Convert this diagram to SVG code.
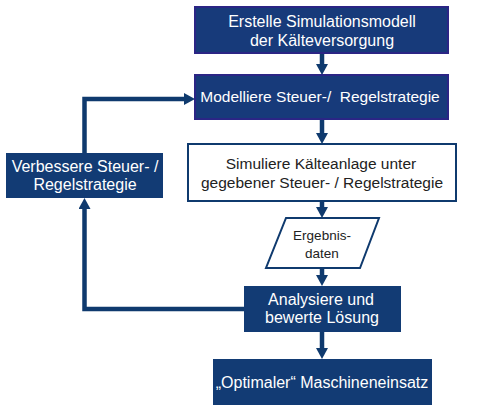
<svg xmlns="http://www.w3.org/2000/svg" width="484" height="410" viewBox="0 0 484 410">
<style>
.dark{fill:#123b74;}
.top{fill:#173a7a;stroke:#2b2585;stroke-width:2;}
.white{fill:#ffffff;stroke:#0f3a6e;stroke-width:2;}
.tw{font-family:"Liberation Sans",Arial,sans-serif;font-size:16px;fill:#ffffff;text-anchor:middle;}
.tb{font-family:"Liberation Sans",Arial,sans-serif;font-size:15.5px;fill:#222222;text-anchor:middle;}
.conn{fill:none;stroke:#0f3a6e;stroke-width:4.5;}
</style>
<defs>
<marker id="ah" viewBox="0 0 11 12" refX="0" refY="6" markerWidth="11" markerHeight="12" markerUnits="userSpaceOnUse" orient="auto">
<path d="M0,0 L11,6 L0,12 z" fill="#0f3a6e"/>
</marker>
</defs>
<rect width="484" height="410" fill="#ffffff"/>
<g id="connectors">
<line class="conn" x1="322" y1="53" x2="322" y2="64" marker-end="url(#ah)"/>
<line class="conn" x1="322" y1="119" x2="322" y2="133" marker-end="url(#ah)"/>
<line class="conn" x1="322" y1="201" x2="322" y2="207" marker-end="url(#ah)"/>
<line class="conn" x1="322" y1="268" x2="322" y2="275" marker-end="url(#ah)"/>
<line class="conn" x1="322" y1="332" x2="322" y2="348" marker-end="url(#ah)"/>
<polyline class="conn" points="244,309 84.5,309 84.5,209" marker-end="url(#ah)"/>
<polyline class="conn" points="84.5,153 84.5,99 184,99" marker-end="url(#ah)"/>
</g>
<g id="n1">
<rect class="top" x="195" y="7" width="253" height="46"/>
<text class="tw" x="322" y="27">Erstelle Simulationsmodell</text>
<text class="tw" x="322" y="46">der Kälteversorgung</text>
</g>
<g id="n2">
<rect class="top" x="195" y="75" width="253" height="44"/>
<text class="tw" x="320" y="102" style="font-size:15.5px;white-space:pre" xml:space="preserve">Modelliere Steuer-/  Regelstrategie</text>
</g>
<g id="n3">
<rect class="white" x="188" y="144" width="268" height="57"/>
<text class="tb" x="321" y="169">Simuliere Kälteanlage unter</text>
<text class="tb" x="322" y="188">gegebener Steuer- / Regelstrategie</text>
</g>
<g id="n4">
<polygon class="white" points="286,218 379,218 360,268 266,268"/>
<text class="tb" x="322" y="240" style="font-size:13.5px">Ergebnis-</text>
<text class="tb" x="322" y="258" style="font-size:13.5px">daten</text>
</g>
<g id="n5">
<rect class="dark" x="244" y="286" width="157" height="46"/>
<text class="tw" x="321" y="305">Analysiere und</text>
<text class="tw" x="322" y="323">bewerte Lösung</text>
</g>
<g id="n6">
<rect class="dark" x="213" y="359" width="219" height="46"/>
<text class="tw" x="322" y="388">„Optimaler“ Maschineneinsatz</text>
</g>
<g id="n7">
<rect class="dark" x="6" y="153" width="157" height="45"/>
<text class="tw" x="85" y="172">Verbessere Steuer- /</text>
<text class="tw" x="85" y="190">Regelstrategie</text>
</g>
</svg>
